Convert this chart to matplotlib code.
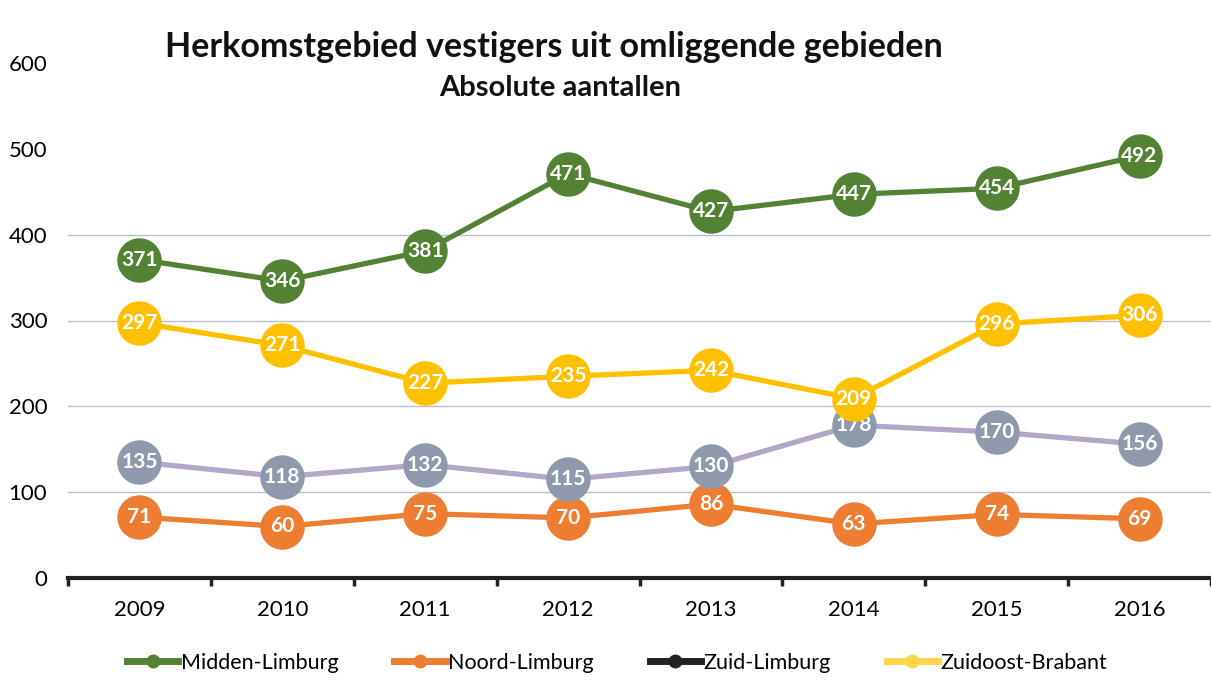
import matplotlib
matplotlib.use("Agg")
from matplotlib import pyplot as plt
from matplotlib.lines import Line2D

# ----------
# Data

years = ["2009", "2010", "2011", "2012", "2013", "2014", "2015", "2016"]
midden_limburg = [371, 346, 381, 471, 427, 447, 454, 492]
noord_limburg = [71, 60, 75, 70, 86, 63, 74, 69]
zuid_limburg = [135, 118, 132, 115, 130, 178, 170, 156]
zuidoost_brabant = [297, 271, 227, 235, 242, 209, 296, 306]

plt.rcParams['font.family'] = ['Lato', 'DejaVu Sans']

# ----------
# Figure

fig = plt.figure(figsize=(12.11, 6.96), dpi=100)
ax = fig.add_axes([68/1211, 118/696, (1211-68)/1211, 515/696])

x = list(range(len(years)))

# (name, values, line colour, marker colour, legend colour, z)
series = [
    ("Midden-Limburg", midden_limburg, "#548235", "#548235", "#548235", 6),
    ("Noord-Limburg", noord_limburg, "#ed7d31", "#ed7d31", "#ed7d31", 3),
    ("Zuid-Limburg", zuid_limburg, "#b4a7c6", "#8e9aab", "#222222", 4),
    ("Zuidoost-Brabant", zuidoost_brabant, "#ffc000", "#ffc000", "#ffd54a", 5),
]

for name, vals, lc, mc, _, z in series:
    ax.plot(x, vals, color=lc, lw=3.8, zorder=z)
    ax.plot(x, vals, 'o', ms=31, color=mc, mec=mc, zorder=z + 0.1)
    for xi, v in zip(x, vals):
        ax.text(xi, v, str(v), ha='center', va='center', color='white',
                fontsize=15, fontweight='bold', zorder=z + 0.2)

ax.set_xlim(-0.5, -0.5 + (1211 - 68) / 143.8)
ax.set_ylim(0, 600)
ax.set_yticks([0, 100, 200, 300, 400, 500, 600])
ax.tick_params(axis='y', length=0, labelsize=16, pad=15)

ax.set_xticks(x)
ax.set_xticklabels(years)
ax.set_xticks([i - 0.5 for i in range(len(years) + 1)], minor=True)
ax.tick_params(axis='x', which='major', length=0, labelsize=16, pad=16)
ax.tick_params(axis='x', which='minor', length=6, width=2.5, color='#222222')

for g in [100, 200, 300, 400]:
    ax.axhline(g, color='#b8bfcc', lw=1.0, zorder=1)

for s in ['top', 'right', 'left']:
    ax.spines[s].set_visible(False)
ax.spines['bottom'].set_linewidth(3)
ax.spines['bottom'].set_color('#222222')
ax.spines['bottom'].set_zorder(10)

fig.text(554/1211, 1 - 47/696, "Herkomstgebied vestigers uit omliggende gebieden",
         ha='center', va='center', fontsize=24.5, fontweight='bold', color='#111111')
fig.text(560/1211, 1 - 88/696, "Absolute aantallen",
         ha='center', va='center', fontsize=21, fontweight='bold', color='#111111')

handles = [Line2D([0], [0], color=leg, lw=5, marker='o', ms=9, mec=leg, mfc=leg)
           for _, _, _, _, leg, _ in series]
fig.legend(handles, [s[0] for s in series], loc='center', ncol=4,
           bbox_to_anchor=(617/1211, 1 - 663/696), frameon=False,
           fontsize=15.5, handlelength=2.4, handletextpad=0.1, columnspacing=2.6)

fig.savefig("out.png", dpi=100)
